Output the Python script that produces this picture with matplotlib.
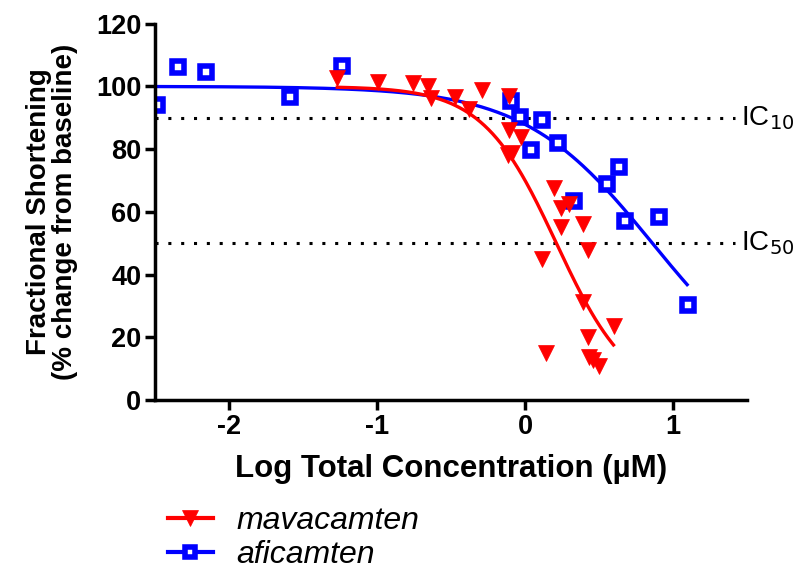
import matplotlib
matplotlib.use("Agg")
import matplotlib.pyplot as plt
import numpy as np

plt.rcParams['font.family'] = ['Liberation Sans', 'DejaVu Sans']
plt.rcParams['axes.unicode_minus'] = False

# mavacamten data (log uM, % FS)
mava_x = [-1.27, -0.995, -0.757, -0.66, -0.637, -0.474, -0.383, -0.29, -0.11, -0.11,
          -0.025, -0.116, -0.088, 0.195, 0.24, 0.297, 0.24, 0.388, 0.424, 0.111,
          0.388, 0.603, 0.422, 0.143, 0.433, 0.456, 0.497]
mava_y = [102.7, 101.3, 101.1, 100.2, 96.3, 96.6, 92.8, 98.7, 96.8, 86.0,
          84.0, 78.2, 78.9, 67.6, 61.2, 62.6, 55.1, 56.2, 47.7, 44.9,
          31.1, 23.6, 20.2, 15.1, 13.8, 12.8, 10.9]

# aficamten data
afi_x = [-2.49, -2.35, -2.16, -1.59, -1.24, -0.093, -0.032, 0.111, 0.041, 0.22,
         0.33, 0.556, 0.637, 0.678, 0.905, 1.10]
afi_y = [94.2, 106.2, 104.6, 96.6, 106.6, 95.5, 90.2, 89.4, 79.8, 81.9,
         63.6, 68.8, 74.4, 57.1, 58.5, 30.4]

# fitted curve parameters: logIC50, hill slope, x range
mava_fit = dict(logic50=0.211, hill=1.74, x0=-1.27, x1=0.597)
afi_fit = dict(logic50=0.86, hill=1.0, x0=-2.5, x1=1.095)

ic_levels = [90, 50]
ic_labels = ['IC$_{10}$', 'IC$_{50}$']


def hill_curve(p):
    xs = np.linspace(p['x0'], p['x1'], 200)
    return xs, 100 / (1 + 10 ** ((xs - p['logic50']) * p['hill']))


fig = plt.figure(figsize=(8.05, 5.71), dpi=100)
ax = fig.add_axes([0.193, 0.2995, 0.735, 0.659])

red = '#ff0000'
blue = '#0000ff'

for lvl, lab in zip(ic_levels, ic_labels):
    ax.plot([-2.5, 1.42], [lvl, lvl], color='black', linestyle=(0, (1, 3.2)),
            linewidth=2.2, clip_on=False)
    ax.text(1.46, lvl, lab, fontsize=20, va='center', ha='left')

xs, ys = hill_curve(afi_fit)
ax.plot(xs, ys, color=blue, linewidth=2.4)
xs, ys = hill_curve(mava_fit)
ax.plot(xs, ys, color=red, linewidth=2.4)

ax.plot(afi_x, afi_y, linestyle='none', marker='s', markersize=8,
        markerfacecolor='white', markeredgecolor=blue, markeredgewidth=4)
ax.plot(mava_x, mava_y, linestyle='none', marker='v', markersize=12,
        markeredgewidth=0.5, color=red)

ax.set_xlim(-2.5, 1.5)
ax.set_ylim(0, 120)
ax.set_xticks([-2, -1, 0, 1])
ax.set_yticks(range(0, 121, 20))

for s in ['top', 'right']:
    ax.spines[s].set_visible(False)
for s in ['left', 'bottom']:
    ax.spines[s].set_linewidth(2.5)
ax.tick_params(width=2.5, length=7, labelsize=19.5, pad=3)
for lab in ax.get_xticklabels() + ax.get_yticklabels():
    lab.set_fontweight('bold')

ax.set_xlabel('Log Total Concentration (µM)', fontsize=22.5, fontweight='bold',
              labelpad=10)
ax.set_ylabel('Fractional Shortening\n(% change from baseline)', fontsize=20,
              fontweight='bold', labelpad=13, linespacing=1.0)

h1, = ax.plot([], [], color=red, linewidth=3, marker='v', markersize=11,
              markeredgewidth=0.5)
h2, = ax.plot([], [], color=blue, linewidth=3, marker='s', markersize=7,
              markerfacecolor='white', markeredgecolor=blue, markeredgewidth=4)
fig.legend([h1, h2], ['mavacamten', 'aficamten'], loc='center left',
           bbox_to_anchor=(0.2087, 0.058), frameon=False, handlelength=1.4,
           prop={'size': 23, 'style': 'italic'}, labelspacing=0.12,
           handletextpad=0.75, borderpad=0, borderaxespad=0)

fig.savefig('out.png', dpi=100)
